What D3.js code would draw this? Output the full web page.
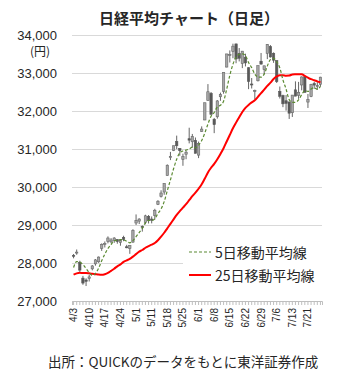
<!DOCTYPE html>
<html><head><meta charset="utf-8">
<script src="https://cdn.jsdelivr.net/npm/d3@7"></script>
<style>body{margin:0;background:#fff;} svg{display:block;}</style>
</head><body>
<svg id="c" width="340" height="370"></svg>
<script>
const dates = ["4/3","4/4","4/5","4/6","4/7","4/10","4/11","4/12","4/13","4/14","4/17","4/18","4/19","4/20","4/21","4/24","4/25","4/26","4/27","4/28",
"5/1","5/2","5/8","5/9","5/10","5/11","5/12","5/15","5/16","5/17","5/18","5/19","5/22","5/23","5/24","5/25","5/26","5/29","5/30","5/31",
"6/1","6/2","6/5","6/6","6/7","6/8","6/9","6/12","6/13","6/14","6/15","6/16","6/19","6/20","6/21","6/22","6/23","6/26","6/27","6/28","6/29","6/30",
"7/3","7/4","7/5","7/6","7/7","7/10","7/11","7/12","7/13","7/14","7/18","7/19","7/20","7/21","7/24","7/25","7/26","7/27"];
const opens = [28203,28261,28020,27602,27553,27597,27846,27977,28031,28387,28501,28562,28555,28593,28614,28536,28674,28427,28381,28551,
29052,29102,28965,29064,29229,29157,29248,29543,29748,29868,30298,30772,30960,31197,31015,30725,30863,31271,31191,31229,
30839,31459,31764,32274,32466,31783,31848,32375,32516,33156,33468,33568,33765,33515,33248,33416,33139,32711,32534,32795,33310,33087,
33517,33696,33519,33326,32517,32406,32270,32239,31955,32557,32406,32685,32901,32235,32381,32721,32640,32700];
const highs = [28237,28355,28060,27661,27597,27690,27945,28104,28171,28515,28567,28700,28655,28680,28628,28605,28717,28478,28470,28889,
29278,29177,28989,29270,29262,29225,29426,29653,29914,30093,30594,30924,31086,31352,31025,30876,30952,31560,31396,31302,
31195,31595,32217,32708,32500,31817,32288,32483,33018,33502,33595,33772,33772,33657,33579,33508,33152,32868,32562,33193,33527,33189,
33762,33734,33542,33331,32644,32429,32420,32239,32419,32780,32766,32911,32926,32448,32716,32765,32760,32900];
const lows = [28123,28217,27766,27427,27394,27513,27806,27930,28005,28318,28408,28517,28522,28530,28507,28454,28574,28388,28241,28528,
28999,29026,28826,29018,29040,29043,29140,29525,29723,29796,30298,30708,30945,30997,30822,30558,30731,31148,31034,30887,
30760,31448,31758,32274,31910,31417,31800,32268,32455,33149,33276,33389,33257,33305,33128,33173,32575,32592,32306,32778,33224,32965,
33366,33406,33267,32738,32328,32101,32010,31791,31843,32391,32319,32544,32490,32080,32364,32584,32560,32640];
const closes = [28188,28287,27813,27472,27518,27633,27923,28082,28156,28493,28514,28658,28606,28657,28564,28593,28620,28416,28457,28856,
29123,29157,28949,29242,29122,29126,29388,29626,29842,30093,30573,30808,31086,31086,30957,30801,30916,31233,31328,30887,
31148,31524,32217,32506,31913,31641,32265,32434,33018,33502,33485,33706,33370,33388,33575,33265,32781,32698,32538,33193,33234,33189,
33753,33422,33338,32773,32388,32189,32203,31943,32419,32391,32493,32896,32490,32304,32700,32682,32668,32891];
const ma5 = [27882,28036,28022,27960,27856,27745,27672,27726,27862,28057,
28234,28381,28485,28586,28600,28616,28608,28570,28530,28588,
28694,28802,28908,29065,29119,29119,29165,29301,29421,29615,
29904,30188,30480,30729,30902,30948,30969,30999,31047,31033,
31102,31224,31421,31656,31862,31960,32108,32152,32254,32572,
32941,33229,33416,33490,33505,33461,33276,33141,32971,32895,
32889,32970,33181,33358,33387,33295,33135,32822,32578,32299,
32228,32229,32290,32428,32538,32515,32577,32614,32569,32649];
const ma25 = [27692,27727,27741,27739,27740,27728,27716,27707,27695,27690,
27705,27738,27793,27850,27913,27963,28030,28068,28109,28168,
28234,28300,28342,28401,28444,28481,28525,28598,28693,28796,
28913,29029,29149,29266,29365,29456,29547,29652,29758,29851,
29954,30070,30222,30384,30506,30607,30731,30870,31021,31197,
31371,31544,31694,31835,31975,32082,32161,32226,32284,32373,
32471,32561,32662,32746,32844,32909,32944,32943,32930,32932,
32963,32968,32970,32965,32925,32878,32837,32810,32781,32754];
const yTicks = [27000,28000,29000,30000,31000,32000,33000,34000];
const titleText = "日経平均チャート（日足）";
const unitText = "(円)";
const sourceText = "出所：QUICKのデータをもとに東洋証券作成";
const legendLabels = ["5日移動平均線","25日移動平均線"];

const svg = d3.select("#c");
const m = {l:72, r:322, t:35, b:301};
const numFont = "'Liberation Sans', Arial, sans-serif";
const jFont = "'Noto Sans CJK JP', sans-serif";

const x = d3.scaleBand().domain(dates).range([m.l, m.r]).padding(0);
const y = d3.scaleLinear().domain([27000, 34000]).range([m.b, m.t]);
const bw = x.bandwidth();
const cx = d => x(d) + bw / 2;

// title
svg.append("text").attr("x", 189).attr("y", 17).attr("text-anchor", "middle")
  .attr("dominant-baseline", "central").attr("font-family", jFont).attr("font-weight", "bold")
  .attr("font-size", 15).attr("fill", "#262626").text(titleText);

// y grid + labels
const gy = svg.append("g").attr("transform", `translate(${m.l},0)`)
  .call(d3.axisLeft(y).tickValues(yTicks).tickSize(-(m.r - m.l)).tickPadding(15).tickFormat(d3.format(",")));
gy.select(".domain").remove();
gy.selectAll(".tick line").attr("stroke", "#d9d9d9").attr("stroke-width", 1);
gy.selectAll(".tick text").attr("font-family", numFont).attr("font-size", 13).attr("fill", "#262626");

svg.append("text").attr("x", 40).attr("y", 50).attr("text-anchor", "middle")
  .attr("dominant-baseline", "central").attr("font-family", jFont).attr("font-size", 12)
  .attr("fill", "#262626").text(unitText);

// x axis
const gx = svg.append("g").attr("transform", `translate(0,${m.b})`)
  .call(d3.axisBottom(x).tickSize(4).tickFormat((d, i) => i % 5 === 0 ? d : ""));
gx.select(".domain").attr("stroke", "#bfbfbf");
gx.selectAll(".tick line").attr("stroke", "#bfbfbf");
gx.selectAll(".tick text").attr("transform", "rotate(-90)").attr("x", -7).attr("y", 0)
  .attr("dy", "0.35em").attr("text-anchor", "end").attr("font-family", numFont)
  .attr("font-size", 10).attr("fill", "#262626");

// candles
const candles = svg.append("g");
dates.forEach((d, i) => {
  const o = opens[i], c = closes[i], h = highs[i], l = lows[i];
  const up = c >= o;
  candles.append("line").attr("x1", cx(d)).attr("x2", cx(d)).attr("y1", y(h)).attr("y2", y(l))
    .attr("stroke", "#666").attr("stroke-width", 1);
  const top = y(Math.max(o, c)), bot = y(Math.min(o, c));
  candles.append("rect").attr("x", cx(d) - bw * 0.38).attr("width", bw * 0.76)
    .attr("y", top).attr("height", Math.max(1, bot - top))
    .attr("fill", up ? "#a6a6a6" : "#595959").attr("stroke", up ? "#666" : "#595959")
    .attr("stroke-width", 0.6);
});

// moving averages
const line = arr => d3.line().x((v, i) => cx(dates[i])).y(v => y(v)).curve(d3.curveMonotoneX)(arr);
svg.append("path").attr("d", line(ma25)).attr("fill", "none").attr("stroke", "#ff0000").attr("stroke-width", 2);
svg.append("path").attr("d", line(ma5)).attr("fill", "none").attr("stroke", "#5b8a32")
  .attr("stroke-width", 1.2).attr("stroke-dasharray", "3,2");

// legend
const lg = svg.append("g");
lg.append("rect").attr("x", 183).attr("y", 240).attr("width", 147).attr("height", 48).attr("fill", "#fff");
lg.append("line").attr("x1", 189).attr("x2", 211).attr("y1", 252).attr("y2", 252)
  .attr("stroke", "#5b8a32").attr("stroke-width", 1.2).attr("stroke-dasharray", "3,2");
lg.append("line").attr("x1", 189).attr("x2", 211).attr("y1", 275).attr("y2", 275)
  .attr("stroke", "#ff0000").attr("stroke-width", 2);
lg.append("text").attr("x", 215).attr("y", 252).attr("dominant-baseline", "central")
  .attr("font-family", jFont).attr("font-size", 14).attr("fill", "#262626").text(legendLabels[0]);
lg.append("text").attr("x", 215).attr("y", 275).attr("dominant-baseline", "central")
  .attr("font-family", jFont).attr("font-size", 14).attr("fill", "#262626").text(legendLabels[1]);

// source
svg.append("text").attr("x", 48).attr("y", 361).attr("dominant-baseline", "central")
  .attr("font-family", jFont).attr("font-size", 13.5).attr("fill", "#262626").text(sourceText);
</script>
</body></html>
